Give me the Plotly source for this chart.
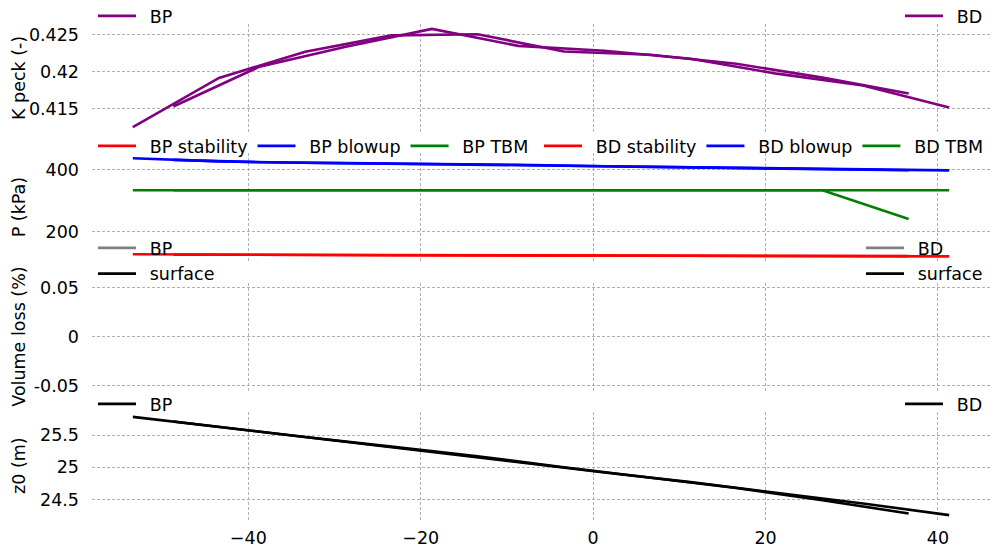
import plotly.graph_objects as go
from plotly.subplots import make_subplots

# ---- data ----
BP_X = [-53.4, -43.4, -33.4, -23.4, -13.4, -3.4, 6.6, 16.6, 26.6, 36.6]
BD_X = [-48.7, -38.7, -28.7, -18.7, -8.7, 1.3, 11.3, 21.3, 31.3, 41.3]

K_BP = [0.41247, 0.41915, 0.4227, 0.42493, 0.42509, 0.42274, 0.4223, 0.42108, 0.41919, 0.41703]
K_BD = [0.41527, 0.42068, 0.42338, 0.42581, 0.42351, 0.42284, 0.42176, 0.41973, 0.41811, 0.41514]

STAB_BP = [128.0, 126.5, 125.5, 125.0, 124.5, 124.0, 123.5, 123.0, 122.5, 122.0]
STAB_BD = [127.0, 126.0, 125.3, 124.8, 124.3, 123.8, 123.2, 122.6, 121.8, 121.2]
BLOW_BP = [437.7, 427.4, 423.2, 420.6, 417.7, 413.5, 409.7, 405.8, 402.3, 399.0]
BLOW_BD = [432.3, 424.8, 421.9, 419.4, 416.1, 411.9, 408.1, 404.5, 401.3, 398.4]
TBM_BP = [334.5, 334.5, 334.5, 334.5, 334.5, 334.5, 334.5, 334.5, 334.5, 242.0]
TBM_BD = [334.5, 334.5, 334.5, 334.5, 334.5, 334.5, 334.5, 334.5, 334.5, 334.5]

VL_BP = [None] * 10
VL_BD = [None] * 10
VL_SURF_BP = [None] * 10
VL_SURF_BD = [None] * 10

Z0_BP = [25.78, 25.62, 25.47, 25.32, 25.17, 25.00, 24.84, 24.68, 24.49, 24.285]
Z0_BD = [25.71, 25.55, 25.40, 25.24, 25.08, 24.92, 24.77, 24.61, 24.44, 24.26]

X_TICKS = [-40, -20, 0, 20, 40]
X_LABELS = ["\u221240", "\u221220", "0", "20", "40"]
K_TICKS = [0.415, 0.42, 0.425]
K_LABELS = ["0.415", "0.42", "0.425"]
P_TICKS = [200, 400]
P_LABELS = ["200", "400"]
VL_TICKS = [-0.05, 0, 0.05]
VL_LABELS = ["-0.05", "0", "0.05"]
Z_TICKS = [24.5, 25, 25.5]
Z_LABELS = ["24.5", "25", "25.5"]

PURPLE = "#800080"
RED = "#ff0000"
BLUE = "#0000ff"
GREEN = "#008000"
GRAY = "#808080"
BLACK = "#000000"
LW = 2.6
FONT = "DejaVu Sans"
FS = 17.5
GAP = "\u2002"   # extra gap between legend handle and label, as in the reference


def rng(values, margin=0.05):
    v = [a for a in values if a is not None]
    lo, hi = min(v), max(v)
    pad = (hi - lo) * margin
    return [lo - pad, hi + pad]


fig = make_subplots(rows=4, cols=1, shared_xaxes=True)

# K peck
fig.add_trace(go.Scatter(x=BP_X, y=K_BP, mode="lines", name=GAP + "BP",
                         line=dict(color=PURPLE, width=LW), legend="legend"), row=1, col=1)
fig.add_trace(go.Scatter(x=BD_X, y=K_BD, mode="lines", name=GAP + "BD",
                         line=dict(color=PURPLE, width=LW), legend="legend2"), row=1, col=1)

# Pressures
for name, xs, ys, col, lg in [
    ("BP stability", BP_X, STAB_BP, RED, "legend3"),
    ("BP blowup", BP_X, BLOW_BP, BLUE, "legend3"),
    ("BP TBM", BP_X, TBM_BP, GREEN, "legend3"),
    ("BD stability", BD_X, STAB_BD, RED, "legend4"),
    ("BD blowup", BD_X, BLOW_BD, BLUE, "legend4"),
    ("BD TBM", BD_X, TBM_BD, GREEN, "legend4"),
]:
    fig.add_trace(go.Scatter(x=xs, y=ys, mode="lines", name=GAP + name,
                             line=dict(color=col, width=LW), legend=lg), row=2, col=1)

# Volume loss
for name, xs, ys, col, lg in [
    ("BP", BP_X, VL_BP, GRAY, "legend5"),
    ("surface", BP_X, VL_SURF_BP, BLACK, "legend5"),
    ("BD", BD_X, VL_BD, GRAY, "legend6"),
    ("surface", BD_X, VL_SURF_BD, BLACK, "legend6"),
]:
    fig.add_trace(go.Scatter(x=xs, y=ys, mode="lines", name=GAP + name,
                             line=dict(color=col, width=LW), legend=lg), row=3, col=1)

# z0
fig.add_trace(go.Scatter(x=BP_X, y=Z0_BP, mode="lines", name=GAP + "BP",
                         line=dict(color=BLACK, width=LW), legend="legend7"), row=4, col=1)
fig.add_trace(go.Scatter(x=BD_X, y=Z0_BD, mode="lines", name=GAP + "BD",
                         line=dict(color=BLACK, width=LW), legend="legend8"), row=4, col=1)

# geometry: positions given in page pixels; the page body adds an 8px offset
OFF = 8
PAGE_W, PAGE_H = 1002, 553
W, H = PAGE_W - OFF, PAGE_H - OFF
PL, PR, PT, PB = 92, 990, 24, 520          # plot area in page pixels
L, T = PL - OFF, PT - OFF
R, B = W - (PR - OFF), H - (PB - OFF)
PH = H - T - B
PW = W - L - R


def py(p):
    return (PB - p) / PH


def px(p):
    return (p - PL) / PW


domains = [(24, 132), (153.3, 261.3), (282.7, 390.7), (412, 520)]
grid = dict(showgrid=True, gridcolor="#b0b0b0", gridwidth=1, griddash="3px,2px",
            zeroline=False, showline=False, ticks="", color=BLACK, automargin=False)

xr = rng(BP_X + BD_X)
for i in range(1, 5):
    sx = "" if i == 1 else str(i)
    top, bot = domains[i - 1]
    fig.layout["yaxis" + sx].update(domain=[py(bot), py(top)], ticklabelstandoff=12, **grid)
    fig.layout["xaxis" + sx].update(range=xr, tickmode="array", tickvals=X_TICKS,
                                    ticktext=X_LABELS, ticklabelstandoff=5, **grid)

fig.layout.yaxis.update(range=rng(K_BP + K_BD), tickmode="array", tickvals=K_TICKS, ticktext=K_LABELS)
fig.layout.yaxis2.update(range=rng(STAB_BP + STAB_BD + BLOW_BP + BLOW_BD + TBM_BP + TBM_BD),
                         tickmode="array", tickvals=P_TICKS, ticktext=P_LABELS)
fig.layout.yaxis3.update(range=[-0.055, 0.055], tickmode="array", tickvals=VL_TICKS, ticktext=VL_LABELS)
fig.layout.yaxis4.update(range=rng(Z0_BP + Z0_BD), tickmode="array", tickvals=Z_TICKS, ticktext=Z_LABELS)

titles = ["K peck (-)", "P (kPa)", "Volume loss (%)", "z0 (m)"]
annotations = []
for t, (top, bot) in zip(titles, domains):
    annotations.append(dict(text=t, xref="paper", yref="paper", x=px(19), y=py((top + bot) / 2),
                            xanchor="center", yanchor="middle", textangle=-90, showarrow=False,
                            font=dict(family=FONT, size=FS, color=BLACK)))

leg = dict(bgcolor="rgba(0,0,0,0)", borderwidth=0, font=dict(family=FONT, size=FS, color=BLACK),
           tracegroupgap=0, itemwidth=38)
LX = px(93)
RX = px(988)
fig.update_layout(
    width=W, height=H,
    margin=dict(l=L, r=R, t=T, b=B, autoexpand=False),
    paper_bgcolor="white", plot_bgcolor="white",
    font=dict(family=FONT, size=FS, color=BLACK),
    showlegend=True,
    annotations=annotations,
    legend=dict(x=LX, y=py(16), xanchor="left", yanchor="middle", **leg),
    legend2=dict(x=RX, y=py(16), xanchor="right", yanchor="middle", **leg),
    legend3=dict(x=LX, y=py(146), xanchor="left", yanchor="middle", orientation="h", **leg),
    legend4=dict(x=RX, y=py(146), xanchor="right", yanchor="middle", orientation="h", **leg),
    legend5=dict(x=LX, y=py(261), xanchor="left", yanchor="middle", **leg),
    legend6=dict(x=RX, y=py(261), xanchor="right", yanchor="middle", **leg),
    legend7=dict(x=LX, y=py(404), xanchor="left", yanchor="middle", **leg),
    legend8=dict(x=RX, y=py(404), xanchor="right", yanchor="middle", **leg),
)

fig.write_html("out.html")
